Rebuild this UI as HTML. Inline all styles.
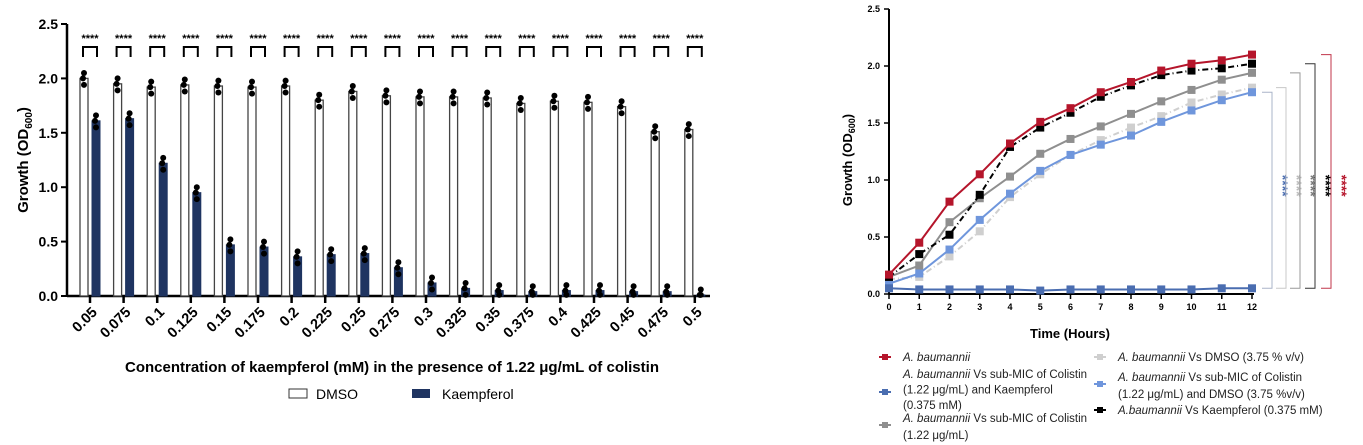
<!DOCTYPE html>
<html><head><meta charset="utf-8"><style>
body{margin:0;background:#fff;width:1363px;height:445px;overflow:hidden;font-family:"Liberation Sans",sans-serif}
svg{position:absolute;left:0;top:0}
</style></head><body>
<svg id="c" width="1363" height="445"></svg>
<script>
const cats=["0.05","0.075","0.1","0.125","0.15","0.175","0.2","0.225","0.25","0.275","0.3","0.325","0.35","0.375","0.4","0.425","0.45","0.475","0.5"];
const dmso=[2.0,1.95,1.92,1.94,1.93,1.92,1.93,1.80,1.88,1.84,1.83,1.83,1.82,1.77,1.79,1.78,1.74,1.51,1.53];
const kaemp=[1.61,1.63,1.22,0.95,0.47,0.45,0.36,0.38,0.39,0.26,0.12,0.07,0.05,0.04,0.05,0.05,0.04,0.04,0.01];
const yTicksL=["0.0","0.5","1.0","1.5","2.0","2.5"];
const hours=[0,1,2,3,4,5,6,7,8,9,10,11,12];
const sRed=[.17,.45,.81,1.05,1.32,1.51,1.63,1.77,1.86,1.96,2.02,2.05,2.10];
const sBlack=[.15,.35,.52,.87,1.29,1.46,1.59,1.73,1.83,1.92,1.96,1.98,2.02];
const sGray=[.15,.25,.63,.84,1.03,1.23,1.36,1.47,1.58,1.69,1.79,1.88,1.94];
const sLGray=[.13,.15,.33,.55,.85,1.05,1.22,1.35,1.46,1.56,1.68,1.75,1.81];
const sLBlue=[.09,.18,.39,.65,.88,1.08,1.22,1.31,1.39,1.51,1.61,1.70,1.77];
const sBlue=[.05,.04,.04,.04,.04,.03,.04,.04,.04,.04,.04,.05,.05];

const svg=document.getElementById('c');
const NS="http://www.w3.org/2000/svg";
function mk(tag,attrs,parent){const e=document.createElementNS(NS,tag);for(const k in attrs)e.setAttribute(k,attrs[k]);(parent||svg).appendChild(e);return e;}
function txt(s,attrs,parent){const e=mk('text',attrs,parent);e.textContent=s;return e;}

// LEFT CHART
const yL=v=>296-v*108.8;
const xL=i=>90+i*33.6;
const gL=mk('g',{});


mk('line',{x1:67,y1:24,x2:67,y2:296,stroke:'#000','stroke-width':2.5},gL);
mk('line',{x1:67,y1:296,x2:710,y2:296,stroke:'#000','stroke-width':2.5},gL);
yTicksL.forEach((t,i)=>{const v=parseFloat(t);mk('line',{x1:61,y1:yL(v),x2:67,y2:yL(v),stroke:'#000','stroke-width':2},gL);
 const l=txt(t,{x:58,y:yL(v)+5,'text-anchor':'end','font-size':14,'font-weight':'bold'},gL);
 });
const yt=txt('',{transform:'translate(28,160) rotate(-90)','text-anchor':'middle','font-size':15,'font-weight':'bold'},gL);
yt.innerHTML='Growth (OD<tspan font-size="10" dy="4">600</tspan><tspan dy="-4">)</tspan>';

cats.forEach((c,i)=>{const x=xL(i);
 mk('line',{x1:x,y1:296,x2:x,y2:303,stroke:'#000','stroke-width':2.5},gL);
 const l=txt(c,{transform:`translate(${x+8},${313}) rotate(-45)`,'text-anchor':'end','font-size':14.5,'font-weight':'bold'},gL);
 
 const d=dmso[i],k=kaemp[i];
 const b1=mk('rect',{x:x-10,y:yL(d),width:8,height:296-yL(d),fill:'#fff',stroke:'#444','stroke-width':1.3},gL);
 
 const b2=mk('rect',{x:x+2,y:yL(k),width:8,height:296-yL(k),fill:'#1f3461',stroke:'#1f3461','stroke-width':1},gL);
 
 [[x-6,d],[x+6,k]].forEach(([cx,v])=>{
  mk('line',{x1:cx,y1:yL(v),x2:cx,y2:yL(v+0.05),stroke:'#000','stroke-width':1},gL);
  mk('circle',{cx:cx,cy:yL(v+0.05),r:3,fill:'#000'},gL);
  mk('circle',{cx:cx-1,cy:yL(v),r:3,fill:'#000'},gL);
  mk('circle',{cx:cx,cy:yL(Math.max(v-0.06,0.01)),r:3,fill:'#000'},gL);});
 mk('polyline',{points:`${x-7},57 ${x-7},47 ${x+7},47 ${x+7},57`,fill:'none',stroke:'#000','stroke-width':2},gL);
 txt('****',{x:x,y:42,'text-anchor':'middle','font-size':11,'font-weight':'bold'},gL);
});
const xt=txt('Concentration of kaempferol (mM) in the presence of 1.22 μg/mL of colistin',{x:392,y:372,'text-anchor':'middle','font-size':15,'font-weight':'bold'},gL);

const lg1=mk('g',{},gL);
mk('rect',{x:289,y:389,width:18,height:9,fill:'#fff',stroke:'#333'},lg1);
txt('DMSO',{x:316,y:399,'font-size':14},lg1);
const lg2=mk('g',{},gL);
mk('rect',{x:412,y:389,width:18,height:9,fill:'#1f3461'},lg2);
txt('Kaempferol',{x:442,y:399,'font-size':14},lg2);

// RIGHT CHART
const yR=v=>294-v*114;
const xR=h=>889+h*30.25;
const gR=mk('g',{});

mk('line',{x1:889,y1:9,x2:889,y2:294,stroke:'#000','stroke-width':2},gR);
mk('line',{x1:889,y1:294,x2:1254,y2:294,stroke:'#000','stroke-width':2},gR);
["0.0","0.5","1.0","1.5","2.0","2.5"].forEach(t=>{const v=parseFloat(t);
 mk('line',{x1:884,y1:yR(v),x2:889,y2:yR(v),stroke:'#000','stroke-width':1.5},gR);
 txt(t,{x:880,y:yR(v)+3,'text-anchor':'end','font-size':9,'font-weight':'bold'},gR);});
hours.forEach(h=>{mk('line',{x1:xR(h),y1:294,x2:xR(h),y2:299,stroke:'#000','stroke-width':1.5},gR);
 txt(String(h),{x:xR(h),y:310,'text-anchor':'middle','font-size':9,'font-weight':'bold'},gR);});
const yt2=txt('',{transform:'translate(852,160) rotate(-90)','text-anchor':'middle','font-size':13,'font-weight':'bold'},gR);
yt2.innerHTML='Growth (OD<tspan font-size="9" dy="3">600</tspan><tspan dy="-3">)</tspan>';

const xt2=txt('Time (Hours)',{x:1070,y:338,'text-anchor':'middle','font-size':13,'font-weight':'bold'},gR);

const series=[
 [sLGray,'#cfcfcf','6,3,1,3','series-dmso'],
 [sLBlue,'#6f96dc','','series-colistin-dmso'],
 [sGray,'#8f8f8f','','series-colistin'],
 [sBlack,'#000','6,3,1,3','series-kaempferol'],
 [sRed,'#b5152b','','series-baumannii'],
 [sBlue,'#4a6db0','','series-colistin-kaempferol']];
series.forEach(([d,col,dash,name])=>{
 const g=mk('g',{},gR);
 mk('polyline',{points:d.map((v,i)=>`${xR(hours[i])},${yR(v)}`).join(' '),fill:'none',stroke:col,'stroke-width':2,'stroke-dasharray':dash},g);
 d.forEach((v,i)=>mk('rect',{x:xR(hours[i])-4,y:yR(v)-4,width:8,height:8,fill:col},g));
});
const brk=[[sLBlue,1272,'#aab4c8','#4a6db0'],[sLGray,1286,'#c8c8c8','#bbb'],[sGray,1300,'#999','#777'],[sBlack,1315,'#333','#000'],[sRed,1331,'#c0364a','#b5152b']];
brk.forEach(([d,x,col,sc])=>{const top=yR(d[d.length-1]),bot=yR(0.05);
 const g=mk('g',{},gR);
 mk('polyline',{points:`${x-10},${top} ${x},${top} ${x},${bot} ${x-10},${bot}`,fill:'none',stroke:col,'stroke-width':1},g);
 txt('****',{transform:`translate(${x+6},${yR(0.95)}) rotate(90)`,'text-anchor':'middle','font-size':14,'font-weight':'bold',fill:sc},g);});

// right legend
const leg=[[885,357,'#b5152b',['<tspan font-style="italic">A. baumannii</tspan>']],
 [885,392,'#4a6db0',['<tspan font-style="italic">A. baumannii</tspan> Vs sub-MIC of Colistin','(1.22 μg/mL) and Kaempferol','(0.375 mM)'],374],
 [885,425,'#8f8f8f',['<tspan font-style="italic">A. baumannii</tspan> Vs sub-MIC of Colistin','(1.22 μg/mL)'],418],
 [1100,357,'#cfcfcf',['<tspan font-style="italic">A. baumannii</tspan> Vs DMSO (3.75 % v/v)']],
 [1100,384,'#6f96dc',['<tspan font-style="italic">A. baumannii</tspan> Vs sub-MIC of Colistin','(1.22 μg/mL) and DMSO (3.75 %v/v)'],377],
 [1100,410,'#000',['<tspan font-style="italic">A.baumannii</tspan> Vs Kaempferol (0.375 mM)']]];
leg.forEach(([x,my,col,lines,ty])=>{
 const g=mk('g',{},gR);
 mk('line',{x1:x-6,y1:my,x2:x+6,y2:my,stroke:col,'stroke-width':2},g);
 mk('rect',{x:x-3,y:my-3,width:6,height:6,fill:col},g);
 const t0=(ty||my)+4;
 lines.forEach((l,i)=>{const t=mk('text',{x:x+18,y:t0+i*(lines.length==3?15.5:17),'font-size':11.5,fill:'#222'},g);t.innerHTML=l;});
});
</script>
</body></html>
